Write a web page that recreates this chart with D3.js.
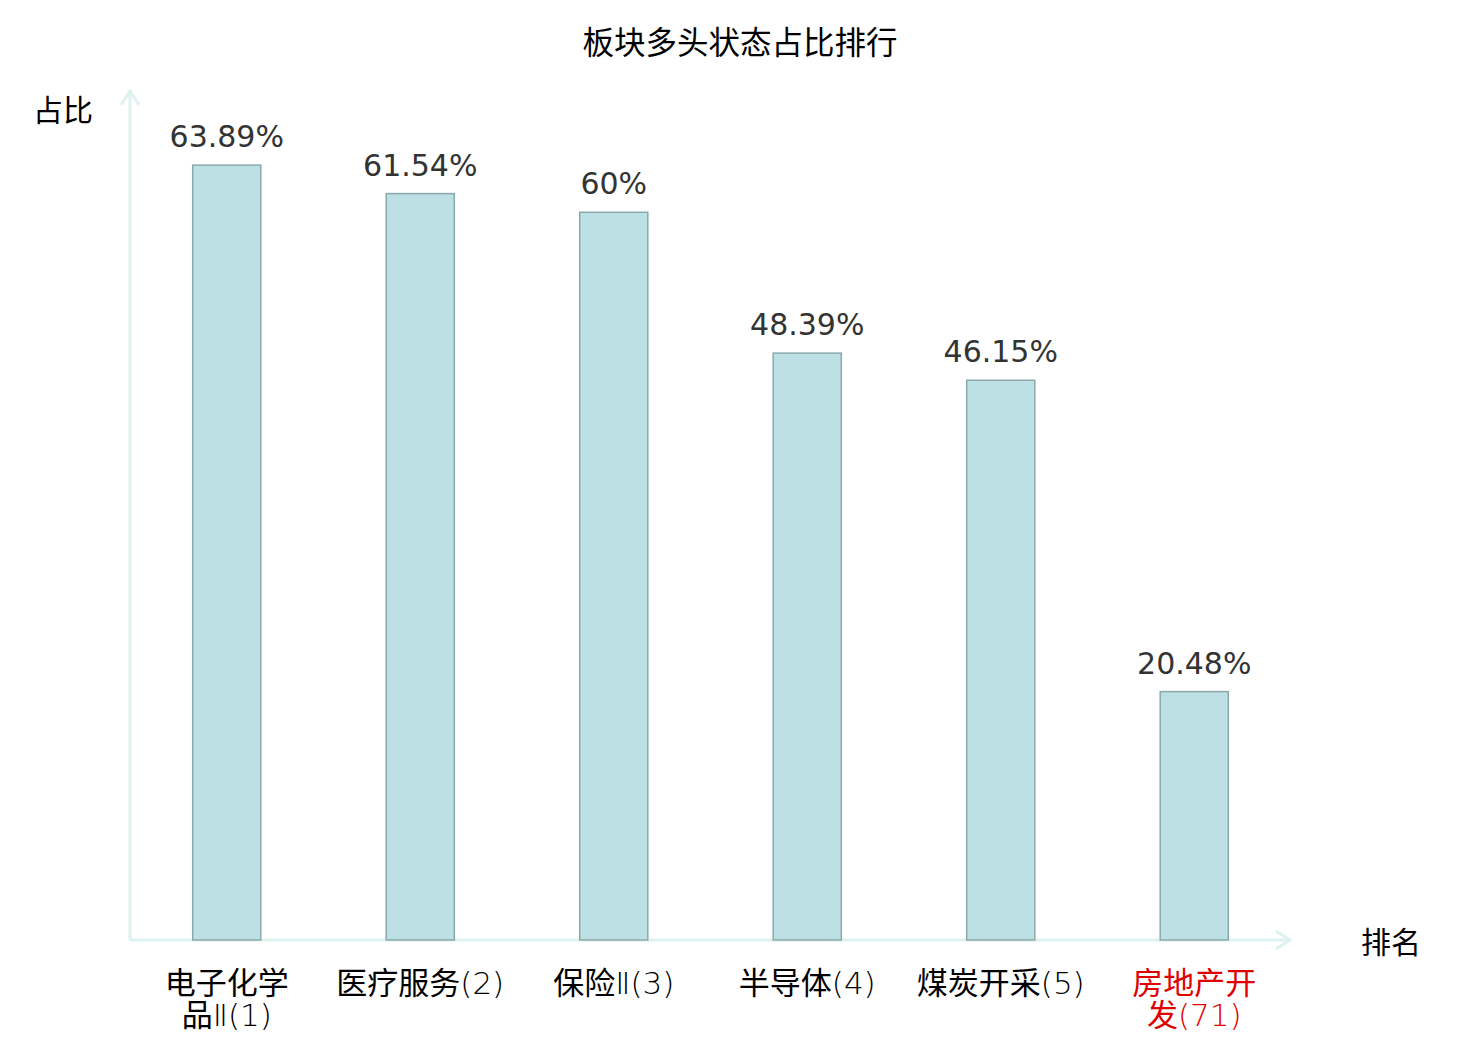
<!DOCTYPE html>
<html>
<head>
<meta charset="utf-8">
<script src="https://cdn.jsdelivr.net/npm/d3@7"></script>
<style>
  body { margin: 0; background: #fff; }
  text { font-family: "DejaVu Sans", "Noto Sans CJK SC", sans-serif; }
  .cjk { font-family: "Noto Sans CJK SC", sans-serif; }
  .thin { font-family: "DejaVu Sans", sans-serif; font-weight: 200; }
</style>
</head>
<body>
<svg id="chart" width="1480" height="1040"></svg>
<script>
var categories = ["电子化学品Ⅱ(1)", "医疗服务(2)", "保险Ⅱ(3)", "半导体(4)", "煤炭开采(5)", "房地产开发(71)"];
var ratios = [63.89, 61.54, 60, 48.39, 46.15, 20.48];
var valueLabels = ["63.89%", "61.54%", "60%", "48.39%", "46.15%", "20.48%"];
var labelColors = ["#000", "#000", "#000", "#000", "#000", "#e00000"];

var svg = d3.select("#chart");
var axisColor = "#def2ef";

var x0 = 130, x1 = 1291, yBase = 940, yTop = 91;

var x = d3.scaleBand()
  .domain(categories)
  .range([x0, x1])
  .paddingInner(0.643)
  .paddingOuter(0.643 / 2);

var y = d3.scaleLinear()
  .domain([0, 70])
  .range([yBase, yTop]);

// title
svg.append("text")
  .attr("class", "cjk")
  .attr("x", 740).attr("y", 54)
  .attr("text-anchor", "middle")
  .style("font-size", "31.5px")
  .attr("fill", "#000")
  .text("板块多头状态占比排行");

// axes: plain lines with open arrow heads
var axes = svg.append("g")
  .attr("stroke", axisColor)
  .attr("stroke-width", 3)
  .attr("fill", "none");
axes.append("line").attr("x1", x0).attr("y1", yBase).attr("x2", x0).attr("y2", yTop);
axes.append("polyline").attr("points", [[x0 - 9, yTop + 14], [x0, yTop], [x0 + 9, yTop + 14]].join(" "));
axes.append("line").attr("x1", x0).attr("y1", yBase).attr("x2", 1290).attr("y2", yBase);
axes.append("polyline").attr("points", [[1276, yBase - 9], [1290, yBase], [1276, yBase + 9]].join(" "));

svg.append("text")
  .attr("class", "cjk")
  .attr("x", 63).attr("y", 121)
  .attr("text-anchor", "middle")
  .style("font-size", "30px")
  .text("占比");
svg.append("text")
  .attr("class", "cjk")
  .attr("x", 1391).attr("y", 953)
  .attr("text-anchor", "middle")
  .style("font-size", "30px")
  .text("排名");

// bars
svg.append("g").selectAll("rect")
  .data(ratios)
  .join("rect")
  .attr("x", function (d, i) { return x(categories[i]) + 0.5; })
  .attr("y", function (d) { return y(d); })
  .attr("width", x.bandwidth() - 1)
  .attr("height", function (d) { return yBase - y(d); })
  .attr("fill", "#bce0e3")
  .attr("stroke", "#8ba8aa")
  .attr("stroke-width", 1.5);

// value labels
svg.append("g").selectAll("text")
  .data(ratios)
  .join("text")
  .attr("x", function (d, i) { return x(categories[i]) + x.bandwidth() / 2; })
  .attr("y", function (d) { return y(d) - 18; })
  .attr("text-anchor", "middle")
  .style("font-size", "30px")
  .attr("fill", "#333")
  .text(function (d, i) { return valueLabels[i]; });

// han chars regular, latin bits in a thin face
function addRuns(textSel, str) {
  var runs = [];
  Array.from(str).forEach(function (ch) {
    var han = /[\u4e00-\u9fff]/.test(ch);
    if (runs.length && runs[runs.length - 1].han === han) runs[runs.length - 1].s += ch;
    else runs.push({ han: han, s: ch });
  });
  runs.forEach(function (r) {
    textSel.append("tspan").attr("class", r.han ? "cjk" : "thin").text(r.s);
  });
}

// category labels: too wide for the band -> first 4 chars, then the rest
var step = x.step();
var catG = svg.append("g");
categories.forEach(function (c, i) {
  var cx = x(c) + x.bandwidth() / 2;
  var probe = catG.append("text").style("font-size", "31px");
  addRuns(probe, c);
  var tooWide = probe.node().getComputedTextLength() > step;
  probe.remove();
  var chars = Array.from(c);
  var lines = tooWide ? [chars.slice(0, 4).join(""), chars.slice(4).join("")] : [c];
  lines.forEach(function (l, k) {
    var t = catG.append("text")
      .attr("x", cx)
      .attr("y", 994 + k * 32)
      .attr("text-anchor", "middle")
      .style("font-size", "31px")
      .attr("fill", labelColors[i]);
    addRuns(t, l);
  });
});
</script>
</body>
</html>
